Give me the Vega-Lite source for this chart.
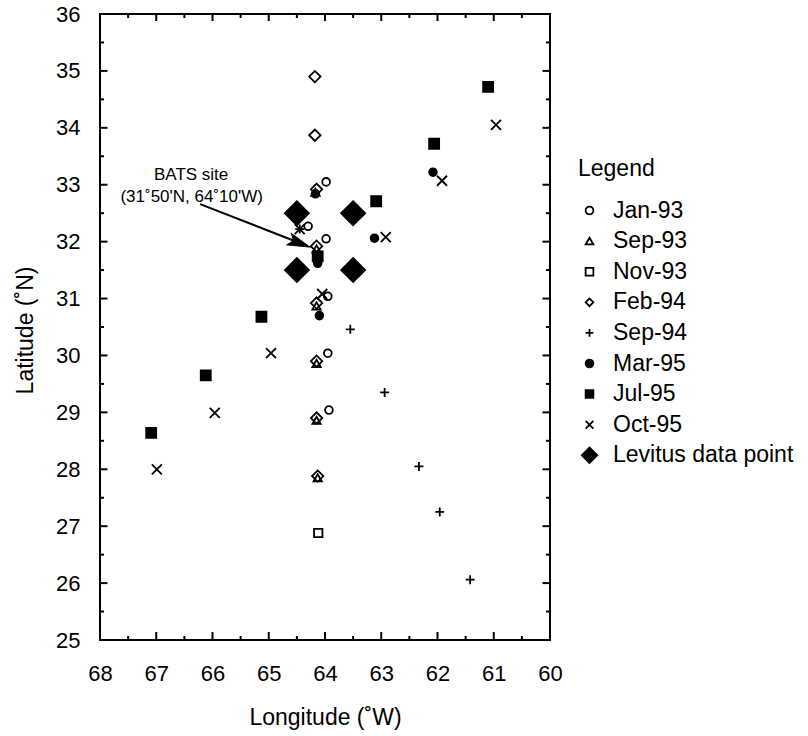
{
  "$schema": "https://vega.github.io/schema/vega-lite/v6.json",
  "width": 450,
  "height": 626,
  "autosize": "none",
  "padding": {"left": 100, "top": 14, "right": 258, "bottom": 96},
  "background": "white",
  "config": {
    "font": "Liberation Sans",
    "view": {"stroke": "black", "strokeWidth": 2},
    "axis": {
      "grid": false,
      "domain": false,
      "ticks": false,
      "labelFont": "Liberation Sans",
      "labelFontSize": 22,
      "labelColor": "black",
      "labelFlush": false,
      "labelOverlap": false,
      "titleFont": "Liberation Sans",
      "titleFontSize": 23,
      "titleFontWeight": "normal",
      "titleColor": "black"
    },
    "legend": {
      "titleFontSize": 23, "titleFontWeight": "normal", "titleColor": "black", "titleFont": "Liberation Sans",
      "labelFontSize": 23, "labelColor": "black", "labelFont": "Liberation Sans", "labelLimit": 500,
      "symbolSize": 60, "symbolStrokeColor": "black", "symbolStrokeWidth": 1.8,
      "rowPadding": 6.6, "labelOffset": 12, "titlePadding": 18, "padding": 0
    }
  },
  "datasets": {
    "pts": [
      {"series": "Jan-93", "lon": 63.98, "lat": 33.05},
      {"series": "Jan-93", "lon": 64.3, "lat": 32.27},
      {"series": "Jan-93", "lon": 63.98, "lat": 32.05},
      {"series": "Jan-93", "lon": 63.95, "lat": 31.04},
      {"series": "Jan-93", "lon": 63.95, "lat": 30.04},
      {"series": "Jan-93", "lon": 63.93, "lat": 29.04},
      {"series": "Sep-93", "lon": 64.17, "lat": 32.87},
      {"series": "Sep-93", "lon": 64.15, "lat": 31.87},
      {"series": "Sep-93", "lon": 64.15, "lat": 30.87},
      {"series": "Sep-93", "lon": 64.15, "lat": 29.86},
      {"series": "Sep-93", "lon": 64.15, "lat": 28.86},
      {"series": "Sep-93", "lon": 64.13, "lat": 27.85},
      {"series": "Nov-93", "lon": 64.12, "lat": 26.88},
      {"series": "Feb-94", "lon": 64.18, "lat": 34.9},
      {"series": "Feb-94", "lon": 64.18, "lat": 33.87},
      {"series": "Feb-94", "lon": 64.15, "lat": 32.92},
      {"series": "Feb-94", "lon": 64.15, "lat": 31.92},
      {"series": "Feb-94", "lon": 64.15, "lat": 30.92},
      {"series": "Feb-94", "lon": 64.15, "lat": 29.9},
      {"series": "Feb-94", "lon": 64.15, "lat": 28.9},
      {"series": "Feb-94", "lon": 64.13, "lat": 27.88},
      {"series": "Sep-94", "lon": 64.45, "lat": 32.22},
      {"series": "Sep-94", "lon": 63.55, "lat": 30.46},
      {"series": "Sep-94", "lon": 62.94, "lat": 29.35},
      {"series": "Sep-94", "lon": 62.33, "lat": 28.05},
      {"series": "Sep-94", "lon": 61.96, "lat": 27.25},
      {"series": "Sep-94", "lon": 61.42, "lat": 26.06},
      {"series": "Mar-95", "lon": 64.17, "lat": 32.84},
      {"series": "Mar-95", "lon": 64.13, "lat": 31.62},
      {"series": "Mar-95", "lon": 64.1, "lat": 30.7},
      {"series": "Mar-95", "lon": 63.12, "lat": 32.06},
      {"series": "Mar-95", "lon": 62.08, "lat": 33.22},
      {"series": "Jul-95", "lon": 67.09, "lat": 28.64},
      {"series": "Jul-95", "lon": 66.12, "lat": 29.65},
      {"series": "Jul-95", "lon": 65.13, "lat": 30.68},
      {"series": "Jul-95", "lon": 64.13, "lat": 31.74},
      {"series": "Jul-95", "lon": 63.09, "lat": 32.71},
      {"series": "Jul-95", "lon": 62.06, "lat": 33.72},
      {"series": "Jul-95", "lon": 61.1, "lat": 34.72},
      {"series": "Oct-95", "lon": 66.99, "lat": 28.0},
      {"series": "Oct-95", "lon": 65.96, "lat": 28.99},
      {"series": "Oct-95", "lon": 64.96, "lat": 30.04},
      {"series": "Oct-95", "lon": 64.05, "lat": 31.08},
      {"series": "Oct-95", "lon": 64.45, "lat": 32.22},
      {"series": "Oct-95", "lon": 62.92, "lat": 32.08},
      {"series": "Oct-95", "lon": 61.92, "lat": 33.07},
      {"series": "Oct-95", "lon": 60.96, "lat": 34.05},
      {"series": "Levitus data point", "lon": 64.5, "lat": 32.5},
      {"series": "Levitus data point", "lon": 63.5, "lat": 32.5},
      {"series": "Levitus data point", "lon": 64.5, "lat": 31.5},
      {"series": "Levitus data point", "lon": 63.5, "lat": 31.5}
    ],
    "ann": [
      {"kind": "label", "lon": 66.38, "lat": 33.08, "text": "BATS site"},
      {"kind": "label", "lon": 66.37, "lat": 32.7, "text": "(31˚50'N, 64˚10'W)"},
      {"kind": "arrow", "lon": 66.22, "lat": 32.66, "lon2": 64.46, "lat2": 31.98},
      {"kind": "head", "lon": 64.27, "lat": 31.905}
    ],
    "xmaj": [{"v": 60}, {"v": 61}, {"v": 62}, {"v": 63}, {"v": 64}, {"v": 65}, {"v": 66}, {"v": 67}, {"v": 68}],
    "xmin": [{"v": 60.5}, {"v": 61.5}, {"v": 62.5}, {"v": 63.5}, {"v": 64.5}, {"v": 65.5}, {"v": 66.5}, {"v": 67.5}],
    "ymaj": [{"v": 25}, {"v": 26}, {"v": 27}, {"v": 28}, {"v": 29}, {"v": 30}, {"v": 31}, {"v": 32}, {"v": 33}, {"v": 34}, {"v": 35}, {"v": 36}],
    "ymin": [{"v": 25.5}, {"v": 26.5}, {"v": 27.5}, {"v": 28.5}, {"v": 29.5}, {"v": 30.5}, {"v": 31.5}, {"v": 32.5}, {"v": 33.5}, {"v": 34.5}, {"v": 35.5}]
  },
  "layer": [
    {
      "data": {"name": "pts"},
      "mark": {"type": "point", "filled": false, "opacity": 1, "strokeWidth": 1.8},
      "encoding": {
        "x": {
          "field": "lon", "type": "quantitative",
          "scale": {"domain": [60, 68], "reverse": true, "nice": false, "zero": false},
          "axis": {
            "orient": "bottom", "title": "Longitude (˚W)",
            "values": [60,61,62,63,64,65,66,67,68],
            "format": "d",
            "labelPadding": 23,
            "titleY": 84, "titleBaseline": "alphabetic"
          }
        },
        "y": {
          "field": "lat", "type": "quantitative",
          "scale": {"domain": [25, 36], "nice": false, "zero": false},
          "axis": {
            "orient": "left", "title": "Latitude (˚N)",
            "values": [25,26,27,28,29,30,31,32,33,34,35,36],
            "format": "d",
            "labelPadding": 20,
            "titleX": -75, "titleY": 316, "titleAngle": 270, "titleAlign": "center", "titleBaseline": "middle"
          }
        },
        "shape": {
          "field": "series", "type": "nominal",
          "scale": {
            "domain": ["Jan-93","Sep-93","Nov-93","Feb-94","Sep-94","Mar-95","Jul-95","Oct-95","Levitus data point"],
            "range": ["circle","triangle-up","square","diamond","M-1,0H1M0,-1V1","circle","square","M-1,-1L1,1M-1,1L1,-1","M-2,0L0,-2L2,0L0,2Z"]
          },
          "legend": {"title": "Legend", "orient": "none", "legendX": 478, "legendY": 144}
        },
        "fill": {
          "field": "series", "type": "nominal",
          "scale": {
            "domain": ["Jan-93","Sep-93","Nov-93","Feb-94","Sep-94","Mar-95","Jul-95","Oct-95","Levitus data point"],
            "range": ["transparent","transparent","transparent","transparent","black","black","black","black","black"]
          },
          "legend": {"title": "Legend", "orient": "none", "legendX": 478, "legendY": 144}
        },
        "stroke": {
          "field": "series", "type": "nominal",
          "scale": {
            "domain": ["Jan-93","Sep-93","Nov-93","Feb-94","Sep-94","Mar-95","Jul-95","Oct-95","Levitus data point"],
            "range": ["black","black","black","black","black","black","black","black","black"]
          },
          "legend": {"title": "Legend", "orient": "none", "legendX": 478, "legendY": 144}
        },
        "size": {
          "field": "series", "type": "nominal",
          "scale": {
            "type": "ordinal",
            "domain": ["Levitus data point","Oct-95","Jul-95","Mar-95","Sep-94","Feb-94","Nov-93","Sep-93","Jan-93"],
            "range": [144, 100, 100, 60, 81, 130, 70, 70, 60]
          },
          "legend": null
        }
      }
    },
    {
      "data": {"name": "ann"},
      "transform": [{"filter": "datum.kind === 'arrow'"}],
      "mark": {"type": "rule", "stroke": "black", "strokeWidth": 2},
      "encoding": {
        "x": {"field": "lon", "type": "quantitative", "axis": null},
        "y": {"field": "lat", "type": "quantitative", "axis": null},
        "x2": {"field": "lon2"},
        "y2": {"field": "lat2"}
      }
    },
    {
      "data": {"name": "ann"},
      "transform": [{"filter": "datum.kind === 'head'"}],
      "mark": {"type": "point", "filled": true, "opacity": 1, "fill": "black", "stroke": "black", "strokeWidth": 1,
               "shape": "M0,0L-2,-0.55L-1.6,0L-2,0.55Z", "size": 484, "angle": 21},
      "encoding": {
        "x": {"field": "lon", "type": "quantitative", "axis": null},
        "y": {"field": "lat", "type": "quantitative", "axis": null}
      }
    },
    {
      "data": {"name": "ann"},
      "transform": [{"filter": "datum.kind === 'label'"}],
      "mark": {"type": "text", "fontSize": 17, "font": "Liberation Sans", "align": "center", "baseline": "alphabetic", "color": "black"},
      "encoding": {
        "x": {"field": "lon", "type": "quantitative", "axis": null},
        "y": {"field": "lat", "type": "quantitative", "axis": null},
        "text": {"field": "text"}
      }
    },
    {
      "data": {"name": "xmaj"},
      "mark": {"type": "point", "filled": false, "opacity": 1, "stroke": "black", "strokeWidth": 2, "shape": "M0,0L0,-2", "size": 64},
      "encoding": {
        "x": {"field": "v", "type": "quantitative", "axis": null},
        "y": {"datum": 25, "type": "quantitative", "axis": null}
      }
    },
    {
      "data": {"name": "xmin"},
      "mark": {"type": "point", "filled": false, "opacity": 1, "stroke": "black", "strokeWidth": 2, "shape": "M0,0L0,-2", "size": 16},
      "encoding": {
        "x": {"field": "v", "type": "quantitative", "axis": null},
        "y": {"datum": 25, "type": "quantitative", "axis": null}
      }
    },
    {
      "data": {"name": "xmaj"},
      "mark": {"type": "point", "filled": false, "opacity": 1, "stroke": "black", "strokeWidth": 2, "shape": "M0,0L0,2", "size": 49},
      "encoding": {
        "x": {"field": "v", "type": "quantitative", "axis": null},
        "y": {"datum": 36, "type": "quantitative", "axis": null}
      }
    },
    {
      "data": {"name": "xmin"},
      "mark": {"type": "point", "filled": false, "opacity": 1, "stroke": "black", "strokeWidth": 2, "shape": "M0,0L0,2", "size": 16},
      "encoding": {
        "x": {"field": "v", "type": "quantitative", "axis": null},
        "y": {"datum": 36, "type": "quantitative", "axis": null}
      }
    },
    {
      "data": {"name": "ymaj"},
      "mark": {"type": "point", "filled": false, "opacity": 1, "stroke": "black", "strokeWidth": 2, "shape": "M0,0L2,0", "size": 56},
      "encoding": {
        "y": {"field": "v", "type": "quantitative", "axis": null},
        "x": {"datum": 68, "type": "quantitative", "axis": null}
      }
    },
    {
      "data": {"name": "ymin"},
      "mark": {"type": "point", "filled": false, "opacity": 1, "stroke": "black", "strokeWidth": 2, "shape": "M0,0L2,0", "size": 16},
      "encoding": {
        "y": {"field": "v", "type": "quantitative", "axis": null},
        "x": {"datum": 68, "type": "quantitative", "axis": null}
      }
    },
    {
      "data": {"name": "ymaj"},
      "mark": {"type": "point", "filled": false, "opacity": 1, "stroke": "black", "strokeWidth": 2, "shape": "M0,0L-2,0", "size": 56},
      "encoding": {
        "y": {"field": "v", "type": "quantitative", "axis": null},
        "x": {"datum": 60, "type": "quantitative", "axis": null}
      }
    },
    {
      "data": {"name": "ymin"},
      "mark": {"type": "point", "filled": false, "opacity": 1, "stroke": "black", "strokeWidth": 2, "shape": "M0,0L-2,0", "size": 16},
      "encoding": {
        "y": {"field": "v", "type": "quantitative", "axis": null},
        "x": {"datum": 60, "type": "quantitative", "axis": null}
      }
    }
  ],
  "resolve": {"axis": {"x": "independent", "y": "independent"}}
}
